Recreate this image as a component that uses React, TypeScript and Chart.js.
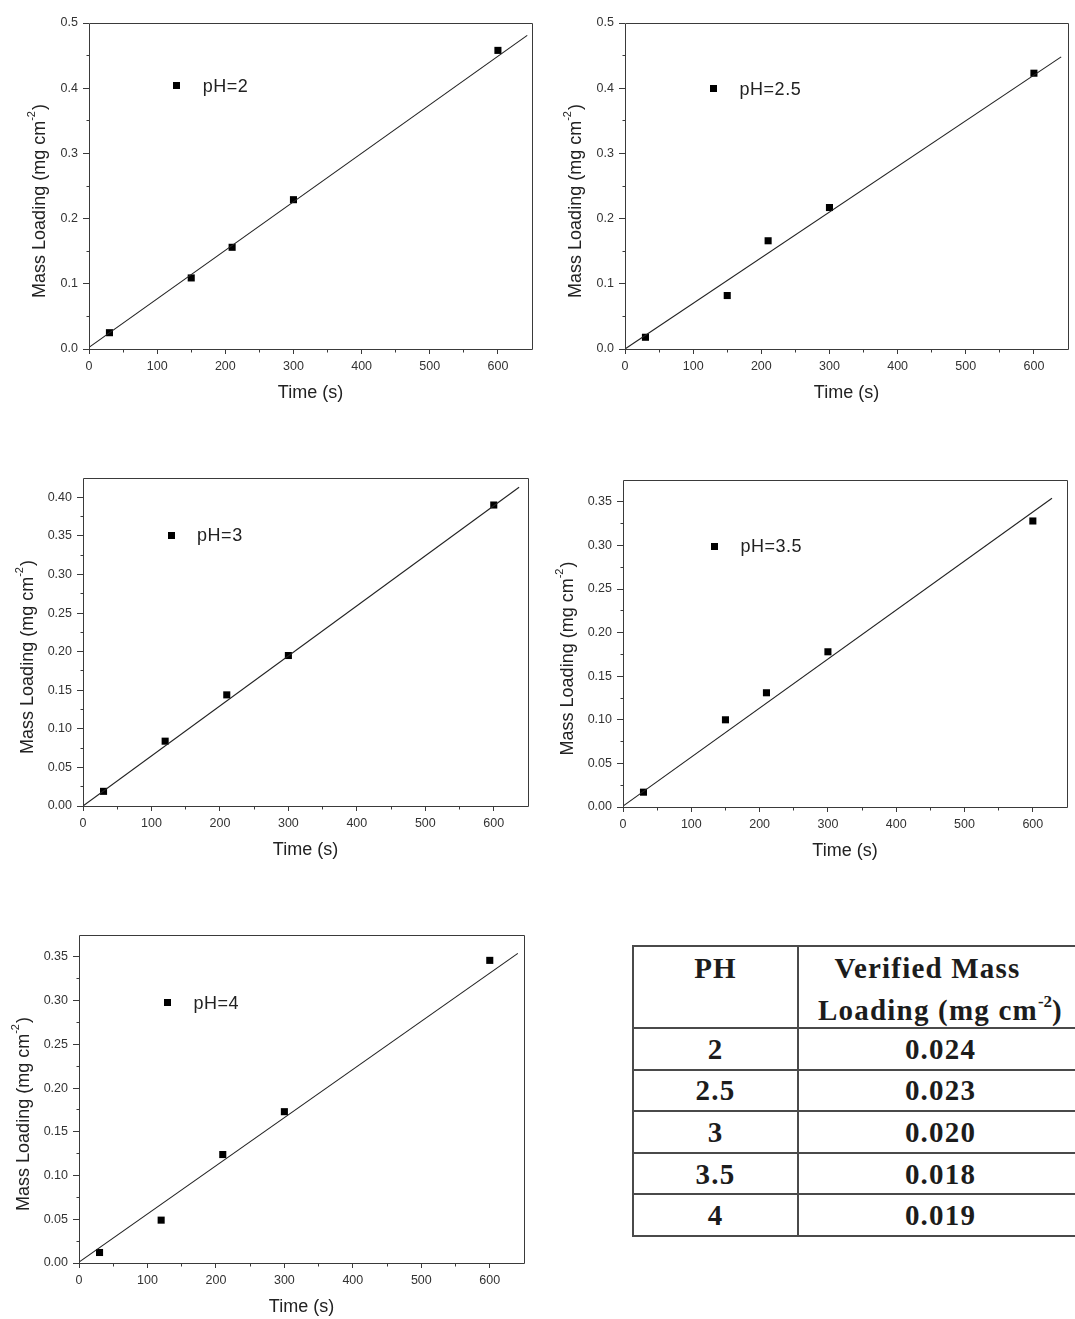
import React, { useEffect, useRef } from "react";
import { Chart, registerables } from "chart.js";

Chart.register(...registerables);

// ---------------- data ----------------
const timeTicks = [0, 100, 200, 300, 400, 500, 600];
const loadTicksTenth = [0, 0.1, 0.2, 0.3, 0.4, 0.5];
const loadTicksTo040 = [0, 0.05, 0.1, 0.15, 0.2, 0.25, 0.3, 0.35, 0.4];
const loadTicksTo035 = [0, 0.05, 0.1, 0.15, 0.2, 0.25, 0.3, 0.35];

const ph2Time = [30, 150, 210, 300, 600];
const ph2Load = [0.025, 0.109, 0.156, 0.229, 0.458];
const ph2FitTime = [0, 643];
const ph2FitLoad = [0.0025, 0.481];

const ph25Time = [30, 150, 210, 300, 600];
const ph25Load = [0.018, 0.082, 0.166, 0.217, 0.423];
const ph25FitTime = [0, 640];
const ph25FitLoad = [0, 0.448];

const ph3Time = [30, 120, 210, 300, 600];
const ph3Load = [0.019, 0.084, 0.144, 0.195, 0.39];
const ph3FitTime = [0, 637];
const ph3FitLoad = [0, 0.413];

const ph35Time = [30, 150, 210, 300, 600];
const ph35Load = [0.017, 0.1, 0.131, 0.178, 0.328];
const ph35FitTime = [0, 628];
const ph35FitLoad = [0.001, 0.354];

const ph4Time = [30, 120, 210, 300, 600];
const ph4Load = [0.012, 0.049, 0.124, 0.173, 0.346];
const ph4FitTime = [0, 641];
const ph4FitLoad = [0.001, 0.354];

const tableHeadPH = "PH";
const tablePH = ["2", "2.5", "3", "3.5", "4"];
const tableVerified = ["0.024", "0.023", "0.020", "0.018", "0.019"];

// ---------------- styling / layout ----------------
const SANS = '"Liberation Sans", Arial, Helvetica, sans-serif';
const SERIF = '"Liberation Serif", "Times New Roman", Times, serif';
const AXIS = "#3a3a3a";
const TEXT = "#333333";
const LEFT_SPACE = 75;
const TOP_SPACE = 20;
const RIGHT_SPACE = 12;
const BOTTOM_SPACE = 62;

type Panel = {
  label: string;
  time: number[];
  load: number[];
  fitTime: number[];
  fitLoad: number[];
  yTicks: number[];
  yMax: number;
  yDecimals: number;
  yMinor: number;
  plot: { left: number; top: number; right: number; bottom: number };
  legend: { fx: number; fy: number };
  yTitleOffset: number;
};

const panels: Panel[] = [
  {
    label: "pH=2", time: ph2Time, load: ph2Load, fitTime: ph2FitTime, fitLoad: ph2FitLoad,
    yTicks: loadTicksTenth, yMax: 0.5, yDecimals: 1, yMinor: 0.05,
    plot: { left: 89, top: 23, right: 532, bottom: 349 },
    legend: { fx: 0.198, fy: 0.192 }, yTitleOffset: 49,
  },
  {
    label: "pH=2.5", time: ph25Time, load: ph25Load, fitTime: ph25FitTime, fitLoad: ph25FitLoad,
    yTicks: loadTicksTenth, yMax: 0.5, yDecimals: 1, yMinor: 0.05,
    plot: { left: 625, top: 23, right: 1068, bottom: 349 },
    legend: { fx: 0.2, fy: 0.202 }, yTitleOffset: 49,
  },
  {
    label: "pH=3", time: ph3Time, load: ph3Load, fitTime: ph3FitTime, fitLoad: ph3FitLoad,
    yTicks: loadTicksTo040, yMax: 0.425, yDecimals: 2, yMinor: 0.025,
    plot: { left: 83, top: 478, right: 528, bottom: 806 },
    legend: { fx: 0.198, fy: 0.174 }, yTitleOffset: 55,
  },
  {
    label: "pH=3.5", time: ph35Time, load: ph35Load, fitTime: ph35FitTime, fitLoad: ph35FitLoad,
    yTicks: loadTicksTo035, yMax: 0.375, yDecimals: 2, yMinor: 0.025,
    plot: { left: 623, top: 480, right: 1067, bottom: 807 },
    legend: { fx: 0.206, fy: 0.203 }, yTitleOffset: 55,
  },
  {
    label: "pH=4", time: ph4Time, load: ph4Load, fitTime: ph4FitTime, fitLoad: ph4FitLoad,
    yTicks: loadTicksTo035, yMax: 0.375, yDecimals: 2, yMinor: 0.025,
    plot: { left: 79, top: 935, right: 524, bottom: 1263 },
    legend: { fx: 0.199, fy: 0.207 }, yTitleOffset: 55,
  },
];

const align = (p: number) => Math.round(p - 0.5) + 0.5;

function makePlugin(cfg: Panel) {
  return {
    id: "originFrame",
    afterDraw(chart: any) {
      const { ctx, chartArea: a, scales } = chart;
      const xs = scales.x;
      const ys = scales.y;
      ctx.save();
      ctx.strokeStyle = AXIS;
      ctx.lineWidth = 1;
      // frame
      const L = align(a.left), R = align(a.right), T = align(a.top), B = align(a.bottom);
      ctx.beginPath();
      ctx.moveTo(L, T); ctx.lineTo(R, T); ctx.lineTo(R, B); ctx.lineTo(L, B); ctx.closePath();
      ctx.stroke();
      // minor ticks x
      ctx.beginPath();
      for (let v = 50; v < 650; v += 100) {
        const px = align(xs.getPixelForValue(v));
        ctx.moveTo(px, B); ctx.lineTo(px, B + 3);
      }
      // minor ticks y
      const majorStep = cfg.yTicks[1] - cfg.yTicks[0];
      for (let v = cfg.yMinor; v < cfg.yMax - 1e-9; v += cfg.yMinor) {
        const r = v / majorStep;
        if (Math.abs(r - Math.round(r)) < 1e-6) continue;
        const py = align(ys.getPixelForValue(v));
        ctx.moveTo(L, py); ctx.lineTo(L - 3, py);
      }
      ctx.stroke();

      // legend
      const lx = a.left + cfg.legend.fx * a.width;
      const ly = a.top + cfg.legend.fy * a.height;
      ctx.fillStyle = "#000";
      ctx.fillRect(Math.round(lx - 3.5), Math.round(ly - 3.5), 7, 7);
      ctx.fillStyle = "#222";
      ctx.font = `18px ${SANS}`;
      ctx.textAlign = "left";
      ctx.textBaseline = "middle";
      try { (ctx as any).letterSpacing = "0.5px"; } catch (e) {}
      ctx.fillText(cfg.label, lx + 26, ly + 1);
      try { (ctx as any).letterSpacing = "0px"; } catch (e) {}

      // x title
      ctx.font = `18px ${SANS}`;
      ctx.textAlign = "center";
      ctx.fillText("Time (s)", (a.left + a.right) / 2, a.bottom + 44);

      // y title with superscript
      ctx.translate(a.left - cfg.yTitleOffset, (a.top + a.bottom) / 2 + 15);
      ctx.rotate(-Math.PI / 2);
      const main = "Mass Loading (mg cm";
      const sup = "-2";
      const end = ")";
      ctx.font = `18px ${SANS}`;
      const wMain = ctx.measureText(main).width;
      const wEnd = ctx.measureText(end).width;
      ctx.font = `11px ${SANS}`;
      const wSup = ctx.measureText(sup).width;
      let x = -(wMain + wSup + wEnd + 1) / 2;
      ctx.textAlign = "left";
      ctx.font = `18px ${SANS}`;
      ctx.fillText(main, x, 0);
      x += wMain;
      ctx.font = `11px ${SANS}`;
      ctx.fillText(sup, x, -8);
      x += wSup + 1;
      ctx.font = `18px ${SANS}`;
      ctx.fillText(end, x, 0);
      ctx.restore();
    },
  };
}

function PhChart({ cfg }: { cfg: Panel }) {
  const ref = useRef<HTMLCanvasElement | null>(null);
  const pw = cfg.plot.right - cfg.plot.left;
  const ph = cfg.plot.bottom - cfg.plot.top;
  const w = pw + LEFT_SPACE + RIGHT_SPACE;
  const h = ph + TOP_SPACE + BOTTOM_SPACE;

  useEffect(() => {
    if (!ref.current) return;
    const chart = new Chart(ref.current, {
      type: "scatter",
      data: {
        datasets: [
          {
            label: "fit",
            data: cfg.fitTime.map((t, i) => ({ x: t, y: cfg.fitLoad[i] })),
            showLine: true,
            borderColor: "#222",
            borderWidth: 1.1,
            pointRadius: 0,
            fill: false,
          } as any,
          {
            label: cfg.label,
            data: cfg.time.map((t, i) => ({ x: t, y: cfg.load[i] })),
            pointStyle: "rect",
            pointRadius: 5,
            pointHoverRadius: 5,
            backgroundColor: "#000",
            borderWidth: 0,
            showLine: false,
          } as any,
        ],
      },
      options: {
        animation: false,
        responsive: false,
        events: [],
        layout: { padding: { left: 0, top: TOP_SPACE, right: RIGHT_SPACE, bottom: 0 } },
        plugins: { legend: { display: false }, tooltip: { enabled: false } },
        scales: {
          x: {
            type: "linear",
            min: 0,
            max: 650,
            afterBuildTicks: (scale: any) => {
              scale.ticks = timeTicks.map((v) => ({ value: v }));
            },
            afterFit: (scale: any) => {
              scale.height = BOTTOM_SPACE;
            },
            ticks: {
              includeBounds: false,
              padding: 5,
              maxRotation: 0,
              autoSkip: false,
              color: TEXT,
              font: { family: SANS, size: 12.5 },
              callback: (v: any) => String(v),
            },
            grid: {
              display: true,
              drawOnChartArea: false,
              drawTicks: true,
              tickLength: 5,
              tickColor: AXIS,
              tickWidth: 1,
            },
            border: { display: false },
            title: { display: false },
          },
          y: {
            type: "linear",
            min: 0,
            max: cfg.yMax,
            afterBuildTicks: (scale: any) => {
              scale.ticks = cfg.yTicks.map((v) => ({ value: v }));
            },
            afterFit: (scale: any) => {
              scale.width = LEFT_SPACE;
            },
            ticks: {
              includeBounds: false,
              padding: 5,
              autoSkip: false,
              color: TEXT,
              font: { family: SANS, size: 12.5 },
              callback: (v: any) => Number(v).toFixed(cfg.yDecimals),
            },
            grid: {
              display: true,
              drawOnChartArea: false,
              drawTicks: true,
              tickLength: 6,
              tickColor: AXIS,
              tickWidth: 1,
            },
            border: { display: false },
            title: { display: false },
          },
        },
      } as any,
      plugins: [makePlugin(cfg)],
    });
    return () => chart.destroy();
  }, []);

  return (
    <canvas
      ref={ref}
      width={w}
      height={h}
      style={{
        position: "absolute",
        left: cfg.plot.left - LEFT_SPACE,
        top: cfg.plot.top - TOP_SPACE,
        width: w,
        height: h,
      }}
    />
  );
}

function ResultTable() {
  const border = "2px solid #4a4a4a";
  const cell: React.CSSProperties = {
    border,
    padding: 0,
    textAlign: "center",
    verticalAlign: "middle",
    height: 39.6,
    fontSize: 29,
    fontWeight: "bold",
    color: "#1c1c1c",
    lineHeight: "34px",
    letterSpacing: "1.2px",
    overflow: "visible",
  };
  return (
    <table
      style={{
        position: "absolute",
        left: 632,
        top: 945,
        width: 446,
        borderCollapse: "collapse",
        fontFamily: SERIF,
        tableLayout: "fixed",
      }}
    >
      <colgroup>
        <col style={{ width: 165 }} />
        <col style={{ width: 281 }} />
      </colgroup>
      <thead>
        <tr>
          <th style={{ ...cell, verticalAlign: "top", height: 80 }}>
            <div style={{ height: 80, lineHeight: "42px", overflow: "visible" }}>{tableHeadPH}</div>
          </th>
          <th style={{ ...cell, verticalAlign: "top", height: 80, paddingLeft: 4 }}>
            <div style={{ height: 80, lineHeight: "42px", overflow: "visible", whiteSpace: "nowrap" }}>
              <span style={{ position: "relative", left: -13 }}>Verified Mass</span>
              <br />
              Loading (mg cm
              <sup style={{ fontSize: 17, verticalAlign: "top", lineHeight: "26px", letterSpacing: 0 }}>-2</sup>)
            </div>
          </th>
        </tr>
      </thead>
      <tbody>
        {tablePH.map((p, i) => (
          <tr key={p}>
            <td style={cell}>{p}</td>
            <td style={{ ...cell, paddingLeft: 4 }}>{tableVerified[i]}</td>
          </tr>
        ))}
      </tbody>
    </table>
  );
}

export default function App() {
  return (
    <div
      style={{
        position: "absolute",
        left: 0,
        top: 0,
        width: 1075,
        height: 1319,
        overflow: "hidden",
        background: "#fff",
      }}
    >
      {panels.map((p) => (
        <PhChart key={p.label} cfg={p} />
      ))}
      <ResultTable />
    </div>
  );
}
